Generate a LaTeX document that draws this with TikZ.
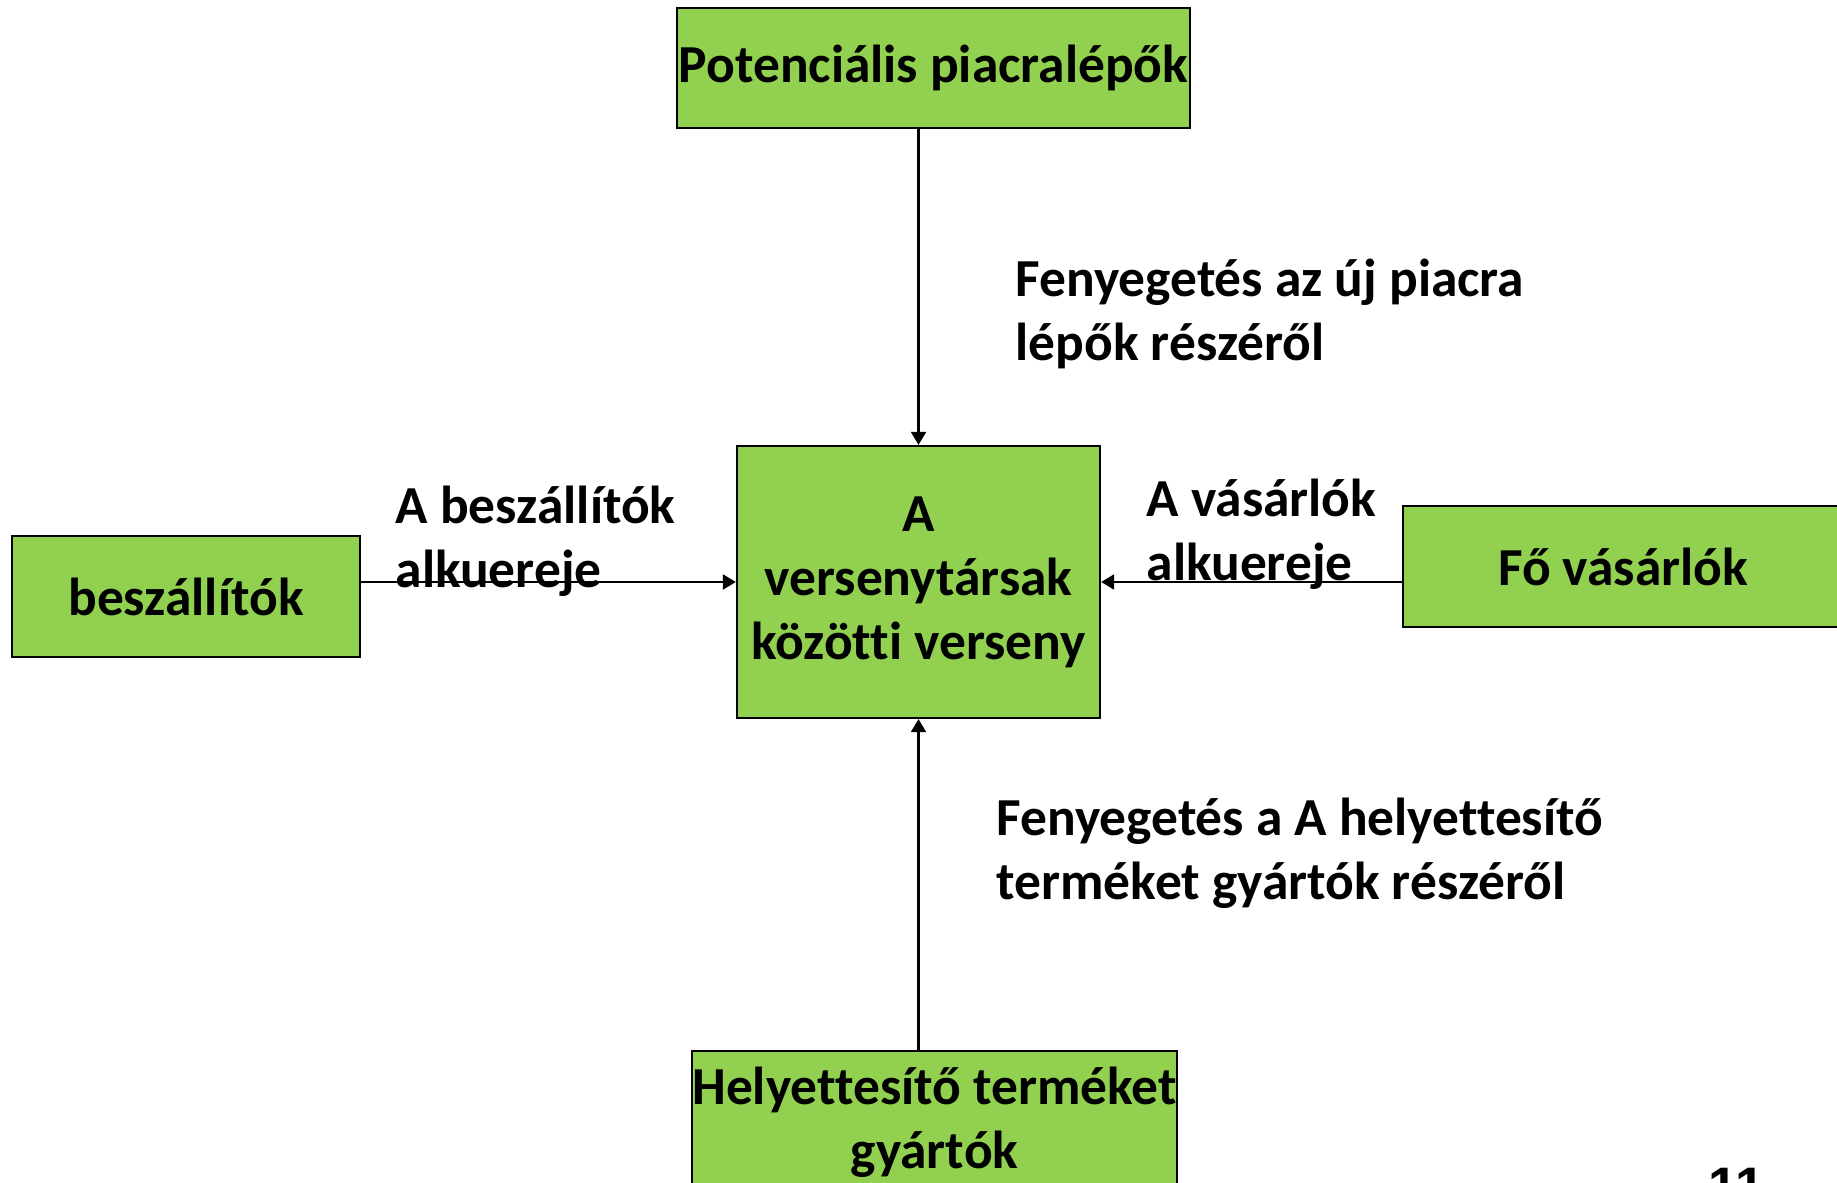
\documentclass[tikz,border=0pt]{standalone}
\usepackage{fontspec}
\setmainfont{Carlito}[Ligatures=CommonOff]
\newfontfamily\pagefont{Liberation Sans}
\usetikzlibrary{arrows.meta, positioning}
\definecolor{zold}{RGB}{146,208,80}

\tikzset{
  doboz/.style={draw=black, line width=0.6pt, fill=zold, align=center, inner sep=0pt,
    font=\fontsize{15.2}{18.2}\selectfont\bfseries},
  felirat/.style={anchor=west, align=left, inner sep=0pt,
    font=\fontsize{15.2}{18.2}\selectfont\bfseries},
  nyil/.style={-{Triangle[length=1.3mm, width=1.5mm]}, line width=0.6pt}
}

\begin{document}
\begin{tikzpicture}[x=0.01cm, y=-0.01cm]
  \useasboundingbox (0,0) rectangle (1837,1183);
  \clip (0,0) rectangle (1837,1183);

  % Dobozok
  \node[doboz, minimum width=5.13cm, minimum height=1.2cm] (belepok) at (933.5,68) {Potenciális piacralépők};
  \node[doboz, minimum width=3.63cm, minimum height=2.72cm] (verseny) at (918.5,582) {A\\versenytársak\\közötti verseny};
  \node[doboz, minimum width=3.48cm, minimum height=1.21cm] (szallitok) at (186,596.5) {beszállítók};
  \node[doboz, minimum width=4.40cm, minimum height=1.21cm] (vasarlok) at (1623,566.5) {Fő vásárlók};
  \node[doboz, minimum width=4.85cm, minimum height=1.42cm] (helyettesitok) at (934.5,1122) {Helyettesítő terméket\\gyártók};

  % Nyilak
  \draw[nyil] (verseny.north |- belepok.south) -- (verseny.north);
  \draw[nyil] (verseny.south |- helyettesitok.north) -- (verseny.south);
  \draw[nyil] (szallitok.east |- verseny.west) -- (verseny.west);
  \draw[nyil] (vasarlok.west |- verseny.east) -- (verseny.east);

  % Feliratok
  \node[felirat] (fenyeg_uj) at (1015,314) {Fenyegetés az új piacra\\lépők részéről};
  \node[felirat] (alku_sz) at (395,541) {A beszállítók\\alkuereje};
  \node[felirat] (alku_v) at (1146,534) {A vásárlók\\alkuereje};
  \node[felirat] (fenyeg_h) at (996,853) {Fenyegetés a A helyettesítő\\terméket gyártók részéről};

  % Oldalszam
  \node[anchor=base west, inner sep=0pt, font=\pagefont\bfseries\fontsize{15}{18}\selectfont] (oldal) at (1708,1204) {11};
\end{tikzpicture}
\end{document}
